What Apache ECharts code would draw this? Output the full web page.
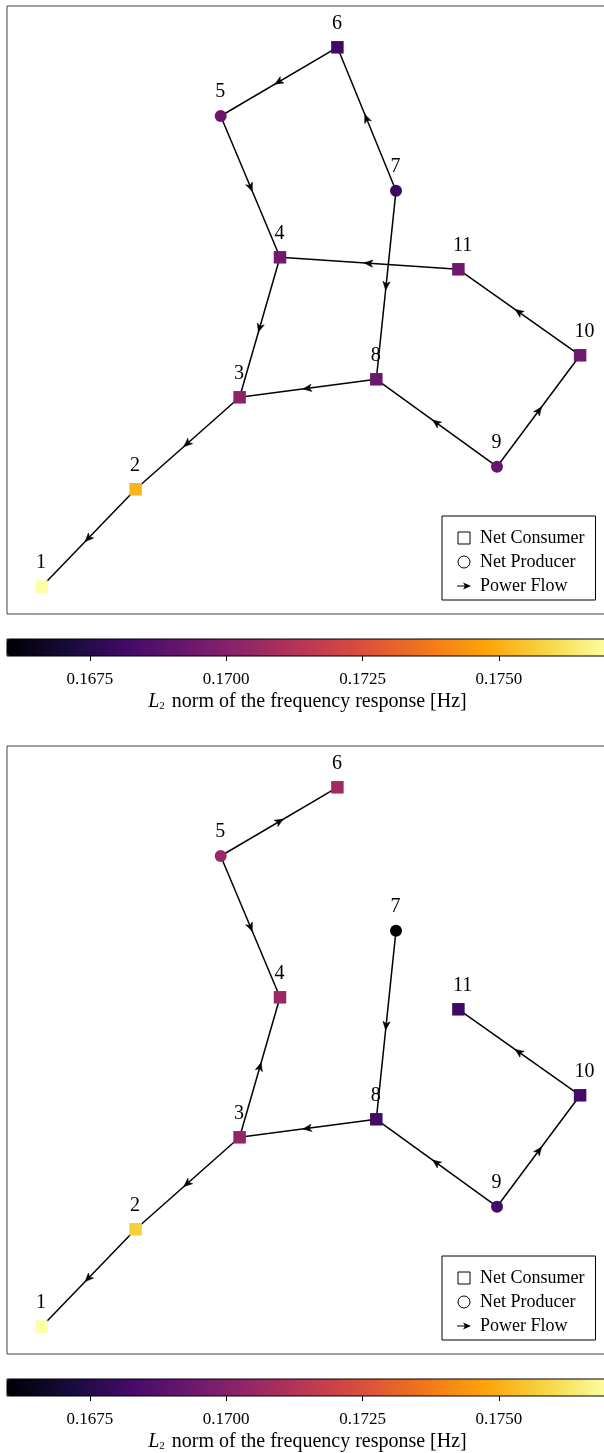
<!DOCTYPE html>
<html><head><meta charset="utf-8">
<script src="https://cdn.jsdelivr.net/npm/echarts@6/dist/echarts.min.js"></script>
<style>html,body{margin:0;padding:0;background:#fff}#c{width:604px;height:1453px}</style>
</head><body><div id="c"></div>
<script>
// ---- data ----
const nodeIds = ['1','2','3','4','5','6','7','8','9','10','11'];
const nodeX = [34.6,128.6,232.6,273.0,213.7,330.4,389.0,369.3,490.0,573.1,451.4];
const nodeY = [27.3,124.7,216.7,356.7,498.0,566.7,423.3,234.7,147.3,258.7,344.7];
const nodeType = ['consumer','consumer','consumer','consumer','producer','consumer','producer','consumer','producer','consumer','consumer'];
const valuesA = [0.1770,0.1751,0.1702,0.1695,0.1693,0.1681,0.1680,0.1693,0.1692,0.1694,0.1694];
const valuesB = [0.1770,0.1757,0.1703,0.1706,0.1706,0.1707,0.1660,0.1682,0.1683,0.1682,0.1681];
const flowsA = [[6,5],[7,6],[5,4],[11,4],[7,8],[4,3],[8,3],[3,2],[2,1],[9,8],[9,10],[10,11]];
const flowsB = [[5,6],[5,4],[3,4],[7,8],[8,3],[3,2],[2,1],[9,8],[9,10],[10,11]];
const cbMin = 0.16598, cbMax = 0.1770;
const cbTicks = [0.1675, 0.1700, 0.1725, 0.1750];
const legendNames = ['Net Consumer', 'Net Producer', 'Power Flow'];
const cbTitle = '{i|L}{s|2} norm of the frequency response [Hz]';

// ---- styles ----
const FONT = 'Liberation Serif';
const inferno = ['#000004','#160b39','#420a68','#6a176e','#932667','#bc3754','#dd513a','#f37819','#fca50a','#f6d746','#fcffa4'];
const PANEL_TOP = [6, 746];
const CB_TOP = [639, 1379];
const LEGEND_TOP = [516, 1256];

const chart = echarts.init(document.getElementById('c'), null, {renderer: 'canvas'});

function nodeData(values, type) {
  const out = [];
  for (let i = 0; i < nodeIds.length; i++) {
    if (nodeType[i] === type) out.push([nodeX[i], nodeY[i], values[i], nodeIds[i]]);
  }
  return out;
}
function edgeData(flows) {
  return flows.map(f => [nodeX[f[0]-1], nodeY[f[0]-1], nodeX[f[1]-1], nodeY[f[1]-1]]);
}
function edgeRender(params, api) {
  const p1 = api.coord([api.value(0), api.value(1)]);
  const p2 = api.coord([api.value(2), api.value(3)]);
  const dx = p2[0]-p1[0], dy = p2[1]-p1[1], L = Math.hypot(dx, dy);
  const ux = dx/L, uy = dy/L, nx = -uy, ny = ux;
  const mx = (p1[0]+p2[0])/2, my = (p1[1]+p2[1])/2;
  const tipD = 5, back = 3.5, hw = 3.6, notch = 1.2;
  const pts = [
    [mx+ux*tipD, my+uy*tipD],
    [mx-ux*back+nx*hw, my-uy*back+ny*hw],
    [mx-ux*notch, my-uy*notch],
    [mx-ux*back-nx*hw, my-uy*back-ny*hw]
  ];
  return {type:'group', children:[
    {type:'line', shape:{x1:p1[0], y1:p1[1], x2:p2[0], y2:p2[1]}, style:{stroke:'#000', lineWidth:1.5}},
    {type:'polygon', shape:{points:pts}, style:{fill:'#000', stroke:'#000', lineWidth:0.6}}
  ]};
}

const grids = [], xAxes = [], yAxes = [], series = [], visualMaps = [], legends = [];
[valuesA, valuesB].forEach((vals, p) => {
  const flows = p === 0 ? flowsA : flowsB;
  // plot grid
  grids.push({left:7, top:PANEL_TOP[p], width:600, height:608, show:true, borderColor:'#444', borderWidth:1,
    backgroundColor:'transparent', outerBoundsMode:'none', containLabel:false});
  xAxes.push({gridIndex:2*p, type:'value', min:0, max:600, show:false});
  yAxes.push({gridIndex:2*p, type:'value', min:0, max:608, show:false});
  // colorbar grid
  grids.push({left:7, top:CB_TOP[p], width:601, height:17, show:true, borderColor:'#000', borderWidth:1, z:10,
    outerBoundsMode:'none', containLabel:false});
  xAxes.push({gridIndex:2*p+1, type:'value', min:cbMin, max:cbMax, position:'bottom',
    axisLine:{show:false}, splitLine:{show:false},
    axisTick:{show:true, customValues:cbTicks, length:5, lineStyle:{color:'#000', width:1}},
    axisLabel:{show:true, customValues:cbTicks, formatter:v => v.toFixed(4), margin:15, fontSize:17, fontFamily:FONT, color:'#000'},
    name: cbTitle, nameLocation:'middle', nameGap:35,
    nameTextStyle:{fontSize:20, fontFamily:FONT, color:'#000',
      rich:{i:{fontStyle:'italic', fontSize:20, fontFamily:FONT, color:'#000'},
            s:{fontSize:11, fontFamily:FONT, color:'#000', padding:[10,2,0,0]}}}
  });
  yAxes.push({gridIndex:2*p+1, type:'value', min:0, max:1, show:false});

  const base = series.length;
  series.push({name:'Power Flow', type:'custom', xAxisIndex:2*p, yAxisIndex:2*p, z:1,
    renderItem:edgeRender, encode:{x:[0,2], y:[1,3]}, data:edgeData(flows), silent:true, clip:false});
  const lbl = {show:true, formatter:q => q.value[3], position:'inside', align:'left', verticalAlign:'middle',
    offset:[-5.5,-24], fontSize:20, fontFamily:FONT, color:'#000'};
  series.push({name:'Net Consumer', type:'scatter', xAxisIndex:2*p, yAxisIndex:2*p, z:3,
    symbol:'rect', symbolSize:12.5, itemStyle:{opacity:1}, data:nodeData(vals, 'consumer'), label:lbl, silent:true});
  series.push({name:'Net Producer', type:'scatter', xAxisIndex:2*p, yAxisIndex:2*p, z:3,
    symbol:'circle', symbolSize:12, itemStyle:{opacity:1}, data:nodeData(vals, 'producer'), label:lbl, silent:true});

  visualMaps.push({type:'continuous', min:cbMin, max:cbMax, dimension:2, seriesIndex:[base+1, base+2],
    inRange:{color:inferno}, orient:'horizontal', left:7, top:CB_TOP[p], itemWidth:17, itemHeight:601,
    calculable:false, showLabel:false, text:null, padding:0, hoverLink:false, realtime:false});

  legends.push({left:442, top:LEGEND_TOP[p], orient:'vertical', align:'left', selectedMode:false,
    borderColor:'#000', borderWidth:1, borderRadius:0, padding:[12, 11, 4, 15], itemGap:4,
    itemWidth:14, itemHeight:12, symbolKeepAspect:true, backgroundColor:'#fff',
    textStyle:{fontSize:18, fontFamily:FONT, color:'#000', lineHeight:20, padding:[0,0,0,4]},
    data:[
      {name:legendNames[0], icon:'path://M0,0 L10,0 L10,10 L0,10 Z', itemStyle:{color:'#fff', borderColor:'#000', borderWidth:1}},
      {name:legendNames[1], icon:'circle', itemStyle:{color:'#fff', borderColor:'#000', borderWidth:1}},
      {name:legendNames[2], icon:'path://M0,2.9 L8,2.9 L8,4.1 L0,4.1 Z M6,0 L14,3.5 L6,7 L8,3.5 Z', itemStyle:{color:'#000', borderWidth:0}}
    ]});
});

chart.setOption({
  animation:false,
  backgroundColor:'#fff',
  textStyle:{fontFamily:FONT},
  grid:grids, xAxis:xAxes, yAxis:yAxes, series:series, visualMap:visualMaps, legend:legends
});
</script></body></html>
